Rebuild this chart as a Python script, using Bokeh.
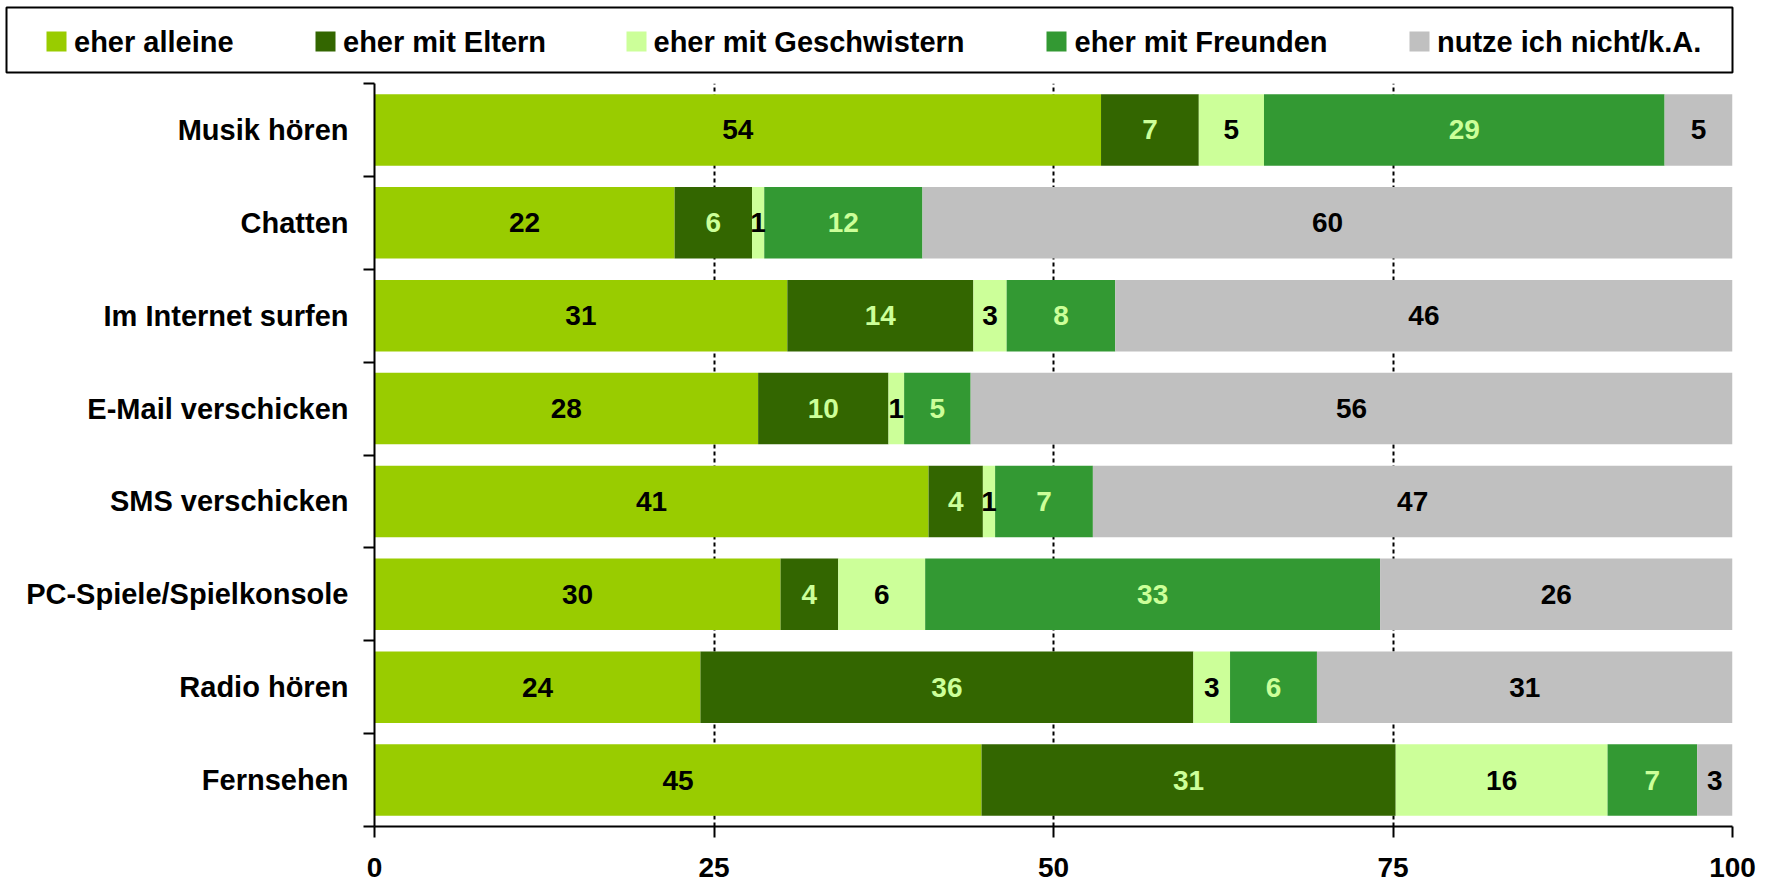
import numpy as np
from bokeh.plotting import figure
from bokeh.models import ColumnDataSource, Range1d, FixedTicker
from bokeh.layouts import column
from bokeh.core.properties import value
from bokeh.embed import file_html
from bokeh.resources import INLINE

# ---------------- data ----------------
categories = ["Musik hören", "Chatten", "Im Internet surfen", "E-Mail verschicken",
              "SMS verschicken", "PC-Spiele/Spielkonsole", "Radio hören", "Fernsehen"]
series = ["eher alleine", "eher mit Eltern", "eher mit Geschwistern",
          "eher mit Freunden", "nutze ich nicht/k.A."]

# bar lengths (percent)
alleine = [53.5, 22.1, 30.4, 28.25, 40.8, 29.9, 24.0, 44.7]
eltern = [7.2, 5.7, 13.7, 9.6, 4.0, 4.25, 36.3, 30.5]
geschwister = [4.8, 0.9, 2.45, 1.15, 0.9, 6.4, 2.7, 15.6]
freunde = [29.5, 11.65, 8.0, 4.9, 7.2, 33.5, 6.4, 6.6]
nutze_nicht = [5.0, 59.65, 45.45, 56.1, 47.1, 25.95, 30.6, 2.6]

# printed (rounded) labels
alleine_lbl = [54, 22, 31, 28, 41, 30, 24, 45]
eltern_lbl = [7, 6, 14, 10, 4, 4, 36, 31]
geschwister_lbl = [5, 1, 3, 1, 1, 6, 3, 16]
freunde_lbl = [29, 12, 8, 5, 7, 33, 6, 7]
nutze_nicht_lbl = [5, 60, 46, 56, 47, 26, 31, 3]

x_ticks = [0, 25, 50, 75, 100]

# ---------------- style ----------------
colors = ["#99CC00", "#336600", "#CCFF99", "#339933", "#C0C0C0"]
label_colors = ["#000000", "#CCFF99", "#000000", "#CCFF99", "#000000"]
FONT_NAME = "Liberation Sans"
FONT = value(FONT_NAME)

values = [alleine, eltern, geschwister, freunde, nutze_nicht]
labels = [alleine_lbl, eltern_lbl, geschwister_lbl, freunde_lbl, nutze_nicht_lbl]
keys = ["s%d" % i for i in range(len(series))]

n = len(categories)
ypos = [n - i - 0.5 for i in range(n)]

data = {"cat": categories, "y": ypos}
for k, v in zip(keys, values):
    data[k] = v
src = ColumnDataSource(data)

# ---------------- legend strip (its own small figure) ----------------
LG_W, LG_H = 1734, 74          # figure size
LG_L, LG_T, LG_R, LG_B = 6, 7, 2, 2   # borders around the legend box
box_w, box_h = LG_W - LG_L - LG_R, LG_H - LG_T - LG_B
swatch_cx = [50, 319, 630, 1050, 1413]      # layout positions inside the box (px)
text_x = [67.5, 336.5, 647, 1068, 1430.5]

lg = figure(width=LG_W, height=LG_H, x_range=Range1d(0, box_w), y_range=Range1d(0, box_h),
            output_backend="svg", toolbar_location=None,
            min_border_left=LG_L, min_border_top=LG_T,
            min_border_right=LG_R, min_border_bottom=LG_B,
            x_axis_location=None, y_axis_location=None, frame_align=False)
for g in lg.grid:
    g.visible = False
lg.background_fill_color = "white"
lg.border_fill_color = "white"
lg.outline_line_color = "black"
lg.outline_line_width = 2
mid = box_h - 34
lg.scatter(x=swatch_cx, y=[mid] * len(series), marker="square", size=20,
           fill_color=colors, line_color=None)
lg.text(x=text_x, y=[mid] * len(series), text=series, text_align="left",
        text_baseline="middle", text_font=FONT, text_font_style="bold",
        text_font_size="29px", text_color="black")

# ---------------- main plot ----------------
W, H = 1770, 886 - LG_H
FRAME_L, FRAME_R, FRAME_T, FRAME_B = 374, 1732, 83 - LG_H, 826 - LG_H
p = figure(width=W, height=H, x_range=Range1d(0, 100), y_range=Range1d(0, n),
           output_backend="svg", toolbar_location=None,
           min_border_left=FRAME_L, min_border_right=W - FRAME_R,
           min_border_top=FRAME_T, min_border_bottom=H - FRAME_B, frame_align=False)
p.background_fill_color = "white"
p.border_fill_color = "white"
p.outline_line_color = None

bars = p.hbar_stack(keys, y="y", height=0.77, fill_color=colors, line_color=None, source=src)

arr = np.array(values, dtype=float)
right = np.cumsum(arr, axis=0)
left = right - arr
cx = (left + right) / 2.0
lab_src = ColumnDataSource(dict(
    x=cx.ravel().tolist(),
    y=[y for _ in range(len(series)) for y in ypos],
    text=[str(v) for row in labels for v in row],
    color=[label_colors[i] for i in range(len(series)) for _ in range(n)],
))
p.text(x="x", y="y", text="text", text_color="color", source=lab_src,
       text_align="center", text_baseline="middle", text_font=FONT,
       text_font_style="bold", text_font_size="28px")

# x axis
p.xaxis.ticker = FixedTicker(ticks=x_ticks)
p.xgrid.ticker = FixedTicker(ticks=x_ticks)
p.xgrid.grid_line_color = "black"
p.xgrid.grid_line_dash = "4 3"
p.xgrid.grid_line_width = 2
p.ygrid.visible = False
p.xaxis.axis_line_width = 2
p.xaxis.axis_line_color = "black"
p.xaxis.major_tick_out = 11
p.xaxis.major_tick_in = 0
p.xaxis.major_tick_line_width = 2
p.xaxis.major_tick_line_color = "black"
p.xaxis.minor_tick_line_color = None
p.xaxis.major_label_text_font = FONT_NAME
p.xaxis.major_label_text_font_style = "bold"
p.xaxis.major_label_text_font_size = "28px"
p.xaxis.major_label_text_color = "black"
p.xaxis.major_label_standoff = 20

# y axis (ticks at category boundaries, labels at centres)
p.yaxis.ticker = FixedTicker(ticks=ypos, minor_ticks=list(range(n + 1)))
p.yaxis.major_label_overrides = {y: c for y, c in zip(ypos, categories)}
p.yaxis.axis_line_width = 2
p.yaxis.axis_line_color = "black"
p.yaxis.major_tick_line_color = None
p.yaxis.major_tick_out = 11
p.yaxis.major_tick_in = 0
p.yaxis.minor_tick_out = 11
p.yaxis.minor_tick_in = 0
p.yaxis.minor_tick_line_width = 2
p.yaxis.minor_tick_line_color = "black"
p.yaxis.major_label_text_font = FONT_NAME
p.yaxis.major_label_text_font_style = "bold"
p.yaxis.major_label_text_font_size = "29px"
p.yaxis.major_label_text_color = "black"
p.yaxis.major_label_standoff = 15

layout = column(lg, p, spacing=0)
open("out.html", "w").write(file_html(layout, INLINE))
